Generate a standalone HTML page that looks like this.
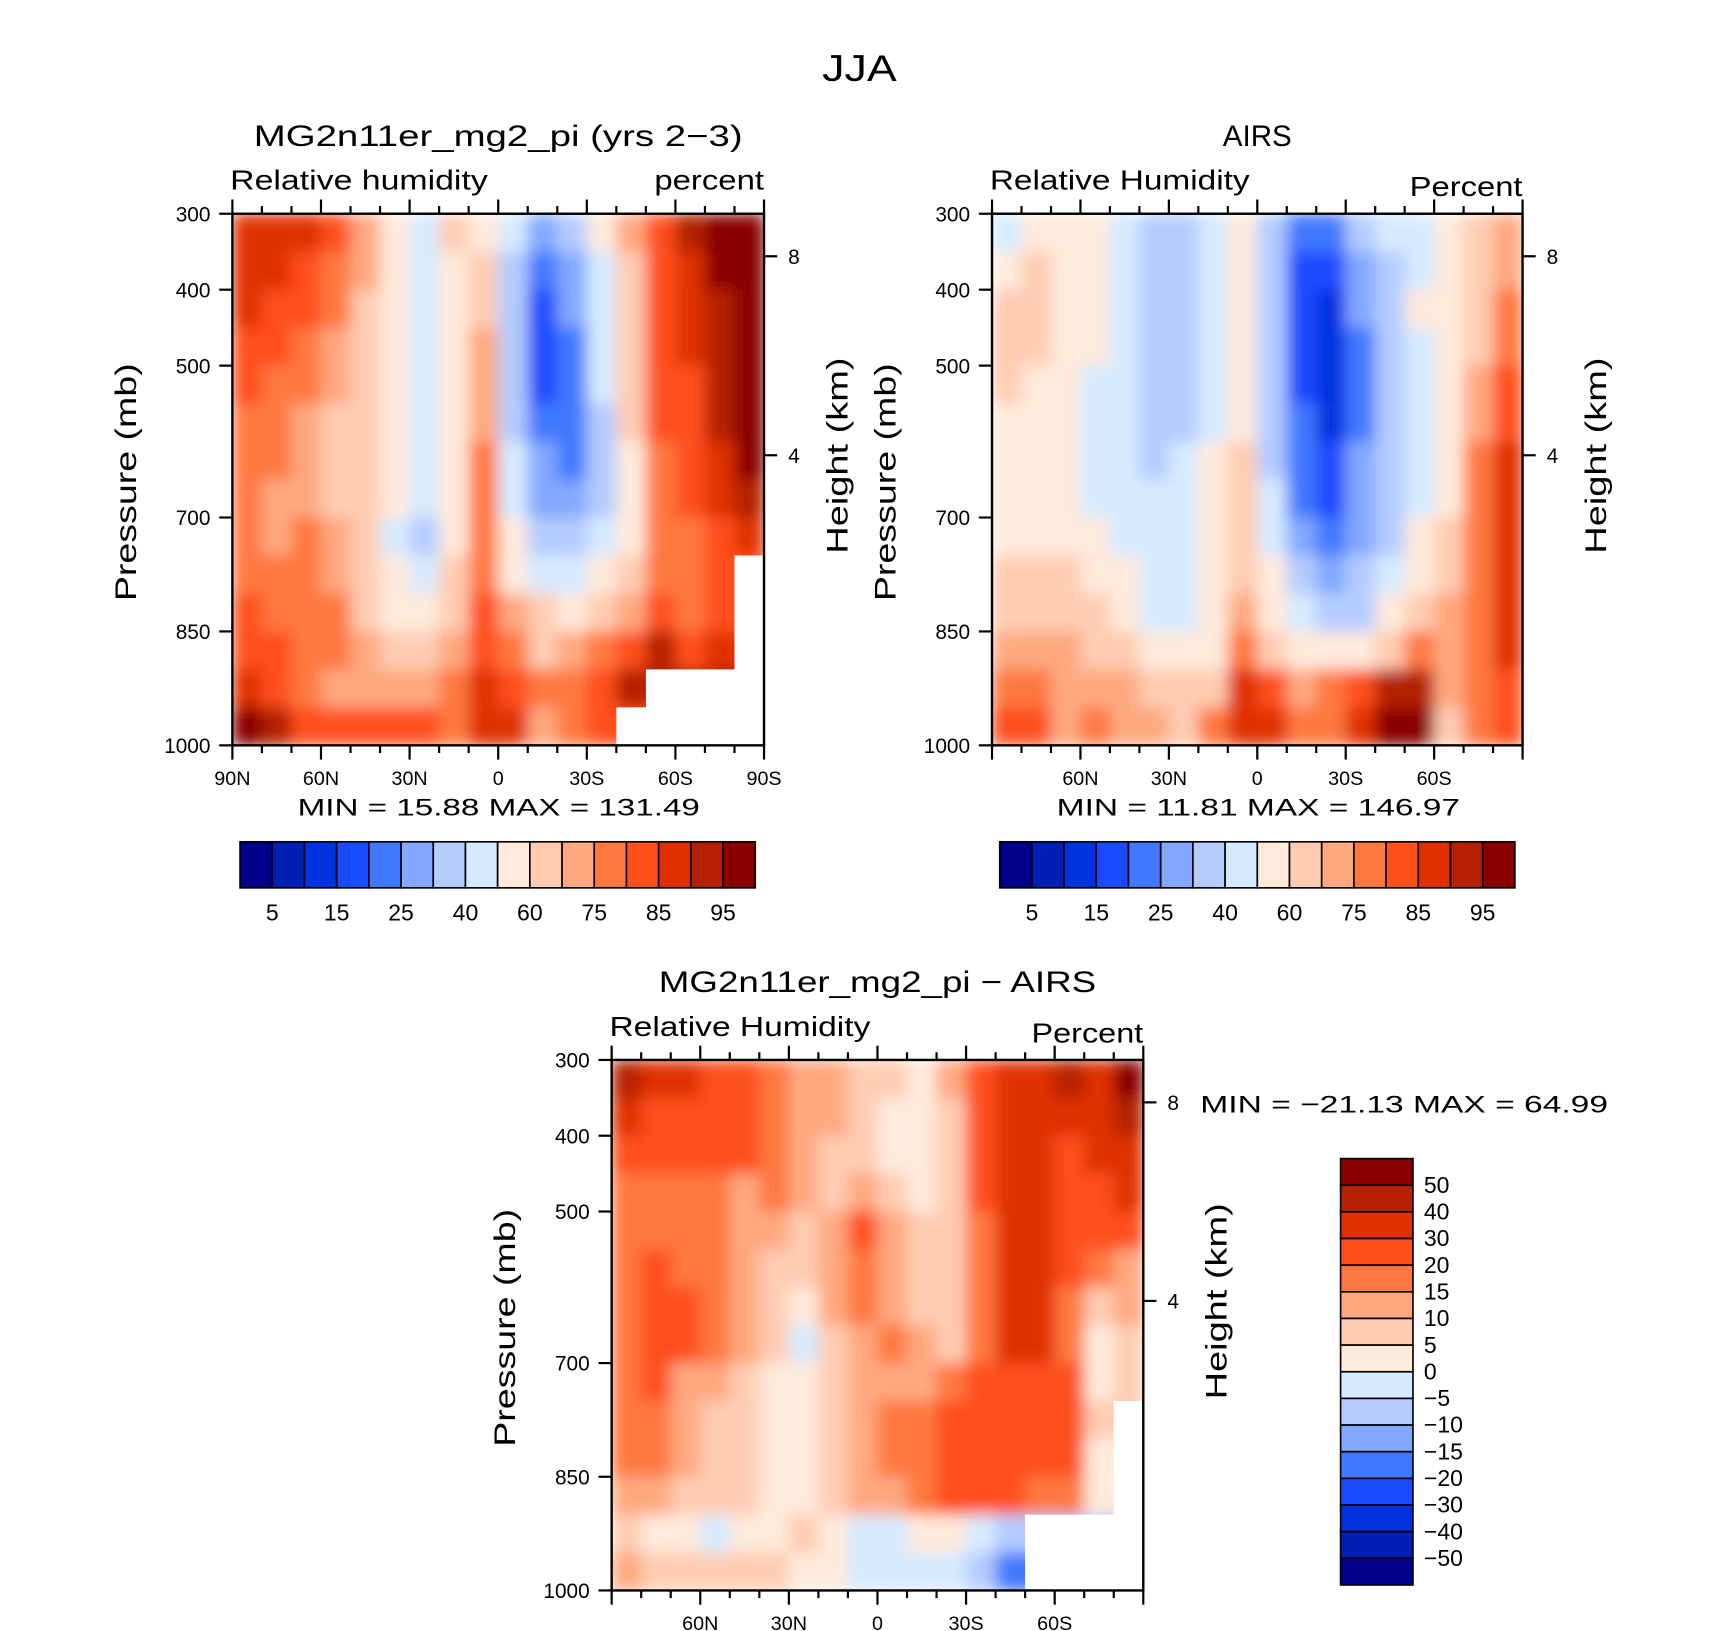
<!DOCTYPE html>
<html><head><meta charset="utf-8"><title>JJA Relative Humidity</title>
<style>
html,body{margin:0;padding:0;background:#fff;}
svg{display:block;}
text{font-family:"Liberation Sans",sans-serif;fill:#000;}
</style></head>
<body>
<svg id="fig" xmlns="http://www.w3.org/2000/svg" width="1710" height="1631" viewBox="0 0 1560 1488" preserveAspectRatio="none">
<defs>
<filter id="smooth" x="0" y="0" width="1" height="1"><feGaussianBlur stdDeviation="7" edgeMode="duplicate"/></filter>
</defs>
<text x="784" y="74" font-size="34" text-anchor="middle" textLength="68" lengthAdjust="spacingAndGlyphs">JJA</text>
</svg>
<script>
// ---- data (level indices 0..15; -1 = missing) ----
const palette = ["#00008a","#001fb4","#0033e0","#1a4cff","#4078ff","#82a8ff","#b4ccff","#d6eaff","#ffeadb","#ffccb2","#ffa880","#ff7840","#ff501a","#e03000","#b42000","#8a0000"];
const latEdges = [90,80,70,60,50,40,30,20,10,0,-10,-20,-30,-40,-50,-60,-70,-80,-90];
const presEdges = [300,350,400,450,500,550,600,650,700,750,800,850,900,950,1000];
const pressureTicks = [300,400,500,700,850,1000];
const heightTicks = [8,4];
const heightTickPres = [356,618];
const rhBarLabels = ["5","15","25","40","60","75","85","95"];
const diffBarLabels = ["50","40","30","20","15","10","5","0","−5","−10","−15","−20","−30","−40","−50"];
const modelLevels = [
[13,13,13,12,10,8,7,9,8,7,5,6,8,10,12,14,15,15],
[13,13,12,11,10,8,7,8,9,6,4,5,7,9,12,13,15,15],
[13,12,12,11,9,8,7,8,9,6,3,5,7,9,12,13,14,15],
[12,12,11,10,9,8,7,8,10,6,3,4,7,9,12,13,14,15],
[12,11,11,10,9,8,7,8,10,6,3,4,7,9,12,12,14,15],
[11,11,10,9,9,8,7,8,10,6,4,4,6,9,12,12,14,15],
[11,11,10,9,9,8,7,8,11,7,5,4,6,8,11,12,13,15],
[11,10,10,9,9,8,7,8,11,7,5,5,6,8,11,12,13,14],
[11,10,11,10,9,7,6,8,11,8,6,6,7,8,11,11,12,13],
[11,11,11,10,9,8,7,9,11,8,7,7,8,9,11,11,12,-1],
[12,11,11,11,9,8,8,9,12,10,9,8,9,10,12,11,12,-1],
[12,12,11,11,10,9,9,10,12,11,9,10,11,12,14,12,13,-1],
[13,12,11,10,10,10,10,11,13,12,11,11,12,14,-1,-1,-1,-1],
[15,14,12,12,12,12,12,11,13,13,10,11,12,-1,-1,-1,-1,-1]];
const airsLevels = [
[7,8,8,8,7,6,6,7,8,6,4,4,6,7,7,8,9,10],
[8,9,8,8,7,6,6,7,8,6,3,3,5,6,7,8,9,10],
[9,9,8,8,7,6,6,7,8,6,3,2,5,6,8,8,9,11],
[9,9,8,8,7,6,6,7,8,6,3,2,4,6,7,8,9,11],
[9,8,8,7,7,6,6,7,8,6,3,2,4,6,7,8,10,12],
[8,8,8,7,7,6,6,7,8,6,4,2,4,6,7,8,10,12],
[8,8,8,7,7,6,7,8,9,6,4,3,5,6,7,8,11,13],
[8,8,8,7,7,7,7,8,9,7,4,3,5,6,7,8,11,13],
[8,8,8,8,7,7,7,8,9,7,5,4,5,6,8,9,11,13],
[9,9,9,8,8,7,7,8,9,8,6,5,6,7,8,9,11,13],
[9,9,9,9,8,7,7,8,10,8,7,6,6,8,9,10,11,13],
[10,10,10,9,9,8,8,8,11,9,8,8,8,9,11,10,11,13],
[11,11,10,10,10,9,9,9,13,12,10,11,12,14,14,10,11,12],
[12,12,10,11,10,10,9,11,13,13,11,11,13,15,15,9,11,12]];
const diffLevels = [
[14,13,13,12,12,11,10,10,9,9,8,10,12,13,13,14,13,15],
[13,12,12,12,12,11,10,10,9,8,8,9,12,13,13,13,13,14],
[12,12,12,12,12,11,10,9,9,8,8,9,12,13,13,12,13,13],
[11,11,11,11,10,11,10,9,10,9,8,9,12,13,13,12,12,13],
[11,11,11,11,10,10,9,10,12,10,9,9,11,13,13,12,12,12],
[11,12,11,11,10,9,9,10,11,10,9,9,11,13,13,12,11,10],
[11,12,12,11,10,9,8,10,11,10,9,9,11,13,13,11,9,10],
[11,12,12,11,10,9,7,9,10,11,10,9,11,13,13,11,8,9],
[11,12,10,10,9,8,8,9,10,10,10,11,12,12,12,12,8,9],
[11,11,10,9,9,8,8,9,10,11,11,12,12,12,12,12,9,-1],
[11,11,10,9,9,8,8,9,10,11,11,12,12,12,12,12,8,-1],
[10,10,9,9,9,8,8,9,10,10,11,12,12,12,11,11,8,-1],
[9,8,8,7,8,8,9,8,7,7,8,8,7,6,-1,-1,-1,-1],
[10,9,9,9,9,9,8,8,7,7,7,7,6,4,-1,-1,-1,-1]];

const NS="http://www.w3.org/2000/svg";
const svg=document.getElementById('fig');
const defs=svg.querySelector('defs');
function mk(tag,attrs,parent){const e=document.createElementNS(NS,tag);for(const k in attrs)e.setAttribute(k,attrs[k]);(parent||svg).appendChild(e);return e;}
function txt(s,attrs,parent){const e=mk('text',attrs,parent);e.textContent=s;return e;}

function drawPanel(o){
  const g=mk('g',{});
  
  
  const X=lat=>o.x+(90-lat)/180*o.w;
  const Y=p=>o.y+(p-300)/700*o.h;
  const cid='clip-'+o.name;
  const cp=mk('clipPath',{id:cid},defs);
  mk('rect',{x:o.x,y:o.y,width:o.w,height:o.h},cp);
  const clipG=mk('g',{'clip-path':'url(#'+cid+')'},g);
  const cells=mk('g',{filter:'url(#smooth)'},clipG);
  
  
  const mask=mk('g',{},clipG);
  
  
  // find fill colour for missing cells from nearest valid neighbour (to avoid white bleeding)
  for(let j=0;j<presEdges.length-1;j++){
    for(let i=0;i<latEdges.length-1;i++){
      let v=o.data[j][i];
      const x0=X(latEdges[i]),x1=X(latEdges[i+1]),y0=Y(presEdges[j]),y1=Y(presEdges[j+1]);
      if(v<0){
        let k=i; while(k>=0 && o.data[j][k]<0) k--;
        let fillV = k>=0 ? o.data[j][k] : 8;
        if(k<0){ let jj=j; while(jj>=0 && o.data[jj][i]<0) jj--; if(jj>=0) fillV=o.data[jj][i]; }
        mk('rect',{x:x0,y:y0,width:x1-x0+0.6,height:y1-y0+0.6,fill:palette[fillV]},cells);
        const w=mk('rect',{x:x0,y:y0,width:x1-x0+1,height:y1-y0+1,fill:'#ffffff'},mask);
        
        
        continue;
      }
      const r=mk('rect',{x:x0,y:y0,width:x1-x0+0.6,height:y1-y0+0.6,fill:palette[v]},cells);
      
      
    }
  }
  const f=mk('rect',{x:o.x,y:o.y,width:o.w,height:o.h,fill:'none',stroke:'#000','stroke-width':2.2},g);
  
  
  for(let lat=90;lat>=-90;lat-=10){
    const major=lat%30===0; const L=major?13:7; const x=X(lat);
    mk('line',{x1:x,x2:x,y1:o.y,y2:o.y-L,stroke:'#000','stroke-width':2},g);
    mk('line',{x1:x,x2:x,y1:o.y+o.h,y2:o.y+o.h+L,stroke:'#000','stroke-width':2},g);
    if(major && (o.edgeLabels || Math.abs(lat)<90)){
      const s=lat===0?'0':(Math.abs(lat)+(lat>0?'N':'S'));
      const t=txt(s,{x:x,y:o.y+o.h+36,'font-size':18,'text-anchor':'middle'},g);
      
      
    }
  }
  pressureTicks.forEach(p=>{
    const y=Y(p);
    mk('line',{x1:o.x,x2:o.x-12,y1:y,y2:y,stroke:'#000','stroke-width':2},g);
    const t=txt(String(p),{x:o.x-20,y:y+7,'font-size':19,'text-anchor':'end'},g);
    
    
  });
  heightTicks.forEach((h,k)=>{
    const y=Y(heightTickPres[k]);
    mk('line',{x1:o.x+o.w,x2:o.x+o.w+12,y1:y,y2:y,stroke:'#000','stroke-width':2},g);
    const t=txt(String(h),{x:o.x+o.w+22,y:y+7,'font-size':19},g);
    
    
  });
  const yl=txt('Pressure (mb)',{x:0,y:0,'font-size':27,'text-anchor':'middle',transform:`translate(${o.x-88},${o.y+o.h*0.505}) rotate(-90)`,textLength:217,lengthAdjust:'spacingAndGlyphs'},g);
  
  
  const hl=txt('Height (km)',{x:0,y:0,'font-size':27,'text-anchor':'middle',transform:`translate(${o.x+o.w+76},${o.y+o.h*0.455}) rotate(-90)`,textLength:179,lengthAdjust:'spacingAndGlyphs'},g);
  
  
  const t1=txt(o.title,{x:o.x+o.w/2,y:o.y-62,'font-size':27,'text-anchor':'middle',textLength:o.titleW,lengthAdjust:'spacingAndGlyphs'},g);
  
  
  const t2=txt(o.left,{x:o.x-2,y:o.y-22,'font-size':25,textLength:o.leftW,lengthAdjust:'spacingAndGlyphs'},g);
  
  
  const t3=txt(o.right,{x:o.x+o.w,y:o.y-o.rightDy,'font-size':25,'text-anchor':'end',textLength:o.rightW,lengthAdjust:'spacingAndGlyphs'},g);
  
  
}

function hbar(x,y,w,h,labels,name){
  const g=mk('g',{});
  
  
  const bw=w/palette.length;
  palette.forEach((c,i)=>{
    const r=mk('rect',{x:x+i*bw,y:y,width:bw,height:h,fill:c,stroke:'#000','stroke-width':1.5},g);
    
    
  });
  labels.forEach((s,k)=>{
    const t=txt(s,{x:x+(2*k+1)*bw,y:y+h+30,'font-size':21,'text-anchor':'middle'},g);
    
    
  });
}
function vbar(x,y,w,h,labels,name){
  const g=mk('g',{});
  
  
  const bh=h/palette.length;
  palette.forEach((c,i)=>{
    const r=mk('rect',{x:x,y:y+i*bh,width:w,height:bh,fill:palette[palette.length-1-i],stroke:'#000','stroke-width':1.5},g);
    
    
  });
  labels.forEach((s,k)=>{
    const t=txt(s,{x:x+w+10,y:y+(k+1)*bh+7,'font-size':21},g);
    
    
  });
}

drawPanel({name:'model-panel',x:212,y:195,w:485,h:485,data:modelLevels,edgeLabels:true,
  title:'MG2n11er_mg2_pi (yrs 2−3)',titleW:446,left:'Relative humidity',leftW:235,right:'percent',rightW:100,rightDy:22});
drawPanel({name:'airs-panel',x:905,y:195,w:484,h:485,data:airsLevels,edgeLabels:false,
  title:'AIRS',titleW:63,left:'Relative Humidity',leftW:237,right:'Percent',rightW:103,rightDy:16});
drawPanel({name:'difference-panel',x:558,y:967,w:485,h:484,data:diffLevels,edgeLabels:false,
  title:'MG2n11er_mg2_pi − AIRS',titleW:399,left:'Relative Humidity',leftW:238,right:'Percent',rightW:102,rightDy:16});

const m1=txt('MIN =   15.88   MAX = 131.49',{x:455,y:744,'font-size':22,'text-anchor':'middle',textLength:367,lengthAdjust:'spacingAndGlyphs'});


const m2=txt('MIN =   11.81   MAX = 146.97',{x:1148,y:744,'font-size':22,'text-anchor':'middle',textLength:368,lengthAdjust:'spacingAndGlyphs'});


const m3=txt('MIN = −21.13   MAX =   64.99',{x:1095,y:1015,'font-size':22,textLength:372,lengthAdjust:'spacingAndGlyphs'});



hbar(219,768,470,42,rhBarLabels,'model-colorbar');
hbar(912,768,470,42,rhBarLabels,'airs-colorbar');
vbar(1223,1057,66,389,diffBarLabels,'difference-colorbar');
</script>
</body></html>
